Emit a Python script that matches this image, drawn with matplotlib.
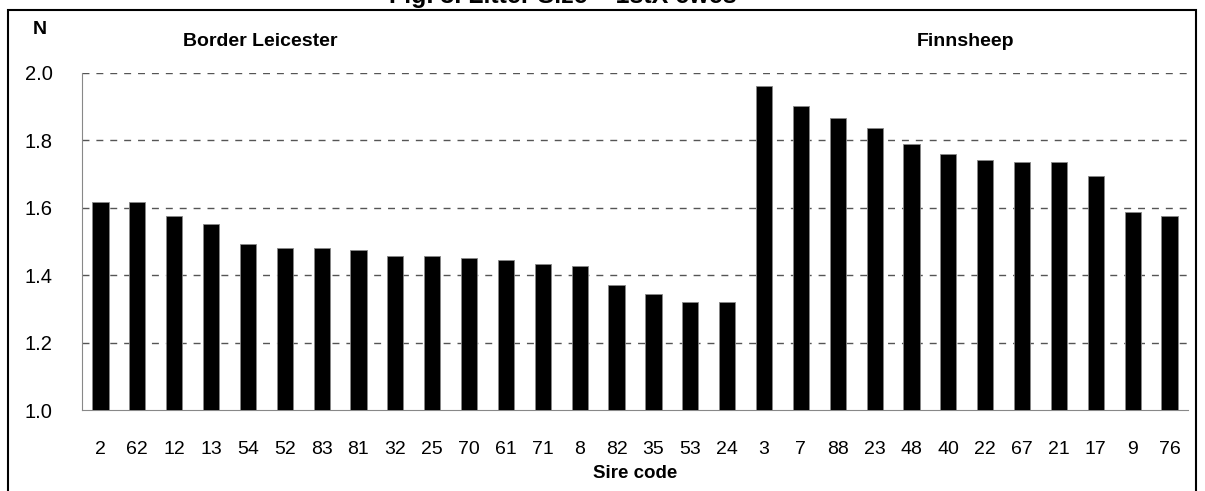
import matplotlib
matplotlib.use("Agg")
import matplotlib.pyplot as plt
from matplotlib.patches import Rectangle

plt.rcParams['font.family'] = ['Liberation Sans', 'DejaVu Sans']

sire_codes = ["2", "62", "12", "13", "54", "52", "83", "81", "32", "25", "70", "61",
              "71", "8", "82", "35", "53", "24",
              "3", "7", "88", "23", "48", "40", "22", "67", "21", "17", "9", "76"]
border_leicester = [1.618, 1.618, 1.576, 1.553, 1.494, 1.482, 1.482, 1.476, 1.458,
                    1.458, 1.450, 1.444, 1.432, 1.427, 1.372, 1.344, 1.319, 1.319]
finnsheep = [1.960, 1.901, 1.866, 1.837, 1.789, 1.760, 1.742, 1.736, 1.736,
             1.695, 1.589, 1.576]
values = border_leicester + finnsheep
yticks = [1.0, 1.2, 1.4, 1.6, 1.8, 2.0]

W, H = 1205, 491
fig = plt.figure(figsize=(W / 100, H / 100), dpi=100)
ax = fig.add_axes([82 / W, 1 - 410 / H, (1188 - 82) / W, (410 - 73) / H])

x = list(range(len(values)))
ax.bar(x, [v - 1.0 for v in values], bottom=1.0, width=0.44, color="black",
       edgecolor="#888888", linewidth=0.6, zorder=3)

ax.set_xlim(-0.5, len(values) - 0.5)
ax.set_ylim(1.0, 2.0)
ax.set_yticks(yticks)
ax.set_yticklabels([f"{t:.1f}" for t in yticks], fontsize=14.5)
ax.set_xticks(x)
ax.set_xticklabels(sire_codes, fontsize=14)
ax.tick_params(axis="both", length=0)
ax.tick_params(axis="y", pad=21)
ax.tick_params(axis="x", pad=22)

for t in yticks[1:]:
    ax.axhline(t, color="#555555", linestyle=(0, (5, 5)), linewidth=1.0, zorder=1)

for s in ["top", "right"]:
    ax.spines[s].set_visible(False)
ax.spines["left"].set_color("#888888")
ax.spines["bottom"].set_color("#888888")

ax.set_xlabel("Sire code", fontsize=13.5, fontweight="bold", labelpad=5)

fig.text(40 / W, 1 - 30 / H, "N", fontsize=14, fontweight="bold", ha="center", va="center")
fig.text(260 / W, 1 - 42 / H, "Border Leicester", fontsize=14, fontweight="bold",
         ha="center", va="center")
fig.text(965 / W, 1 - 42 / H, "Finnsheep", fontsize=14, fontweight="bold",
         ha="center", va="center")
fig.text(563 / W, 1 - 3 / H, "Fig. 3. Litter Size \u2013 1stX ewes", fontsize=18,
         fontweight="bold", ha="center", va="baseline")

fig.patches.append(Rectangle((8 / W, -0.05), (1196 - 8) / W, 1.05 - 10 / H,
                             transform=fig.transFigure, fill=False,
                             edgecolor="black", linewidth=1.5))

fig.savefig("out.png", dpi=100)
